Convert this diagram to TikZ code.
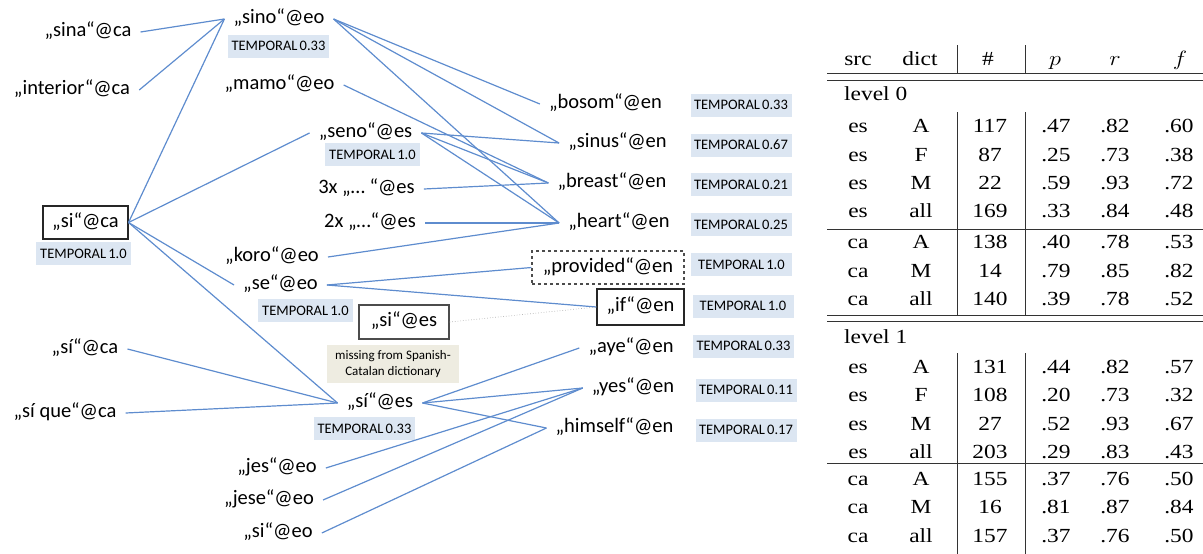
\documentclass[tikz,border=0pt]{standalone}
\usepackage{fontspec}
\usepackage{graphicx}
\setmainfont{Liberation Serif}
\newfontfamily\calib{Carlito}
\newcommand\hs[1]{\scalebox{1.17}[1]{#1}}
\newcommand\tmpl[1]{TEMPORAL\hspace{0.15em}#1}
\definecolor{edgeblue}{RGB}{94,140,206}
\definecolor{tagblue}{RGB}{220,230,242}
\definecolor{tagbeige}{RGB}{238,236,225}
\begin{document}
\begin{tikzpicture}[x=1pt,y=-1pt,
  word/.style={font=\calib\fontsize{20.5}{24}\selectfont, inner xsep=9pt, inner ysep=2pt, text height=14pt, text depth=5pt},
  boxed/.style={word, draw=black!85, line width=1.1pt, inner sep=0pt},
  tagbox/.style={fill=tagblue, font=\calib\fontsize{14.5}{16}\selectfont, minimum width=101pt, minimum height=23pt, inner sep=0pt},
  link/.style={draw=edgeblue, line width=1.2pt},
  cell/.style={font=\fontsize{20}{24}\selectfont, inner sep=0pt, text height=14pt, text depth=4pt},
  rulel/.style={line width=1pt, draw=black!80}]
\useasboundingbox (0,0) rectangle (1203,554);

% ---- left column
\node[word] (sina) at (88,32) {„sina“@ca};
\node[word] (interior) at (72,90) {„interior“@ca};
\node[boxed, minimum width=85pt, minimum height=33pt] (sica) at (85.5,222.5) {„si“@ca};
\node[tagbox, minimum width=95pt] (sicalab) at (83.5,253.5) {\tmpl{1.0}};
\node[word] (sica2) at (85,349) {„sí“@ca};
\node[word] (sique) at (65,413) {„sí que“@ca};

% ---- middle column
\node[word] (sino) at (279,19) {„sino“@eo};
\node[tagbox] (sinolab) at (278.5,46) {\tmpl{0.33}};
\node[word] (mamo) at (279.5,85) {„mamo“@eo};
\node[word] (seno) at (365.5,133) {„seno“@es};
\node[tagbox, minimum width=95pt] (senolab) at (372.5,154.5) {\tmpl{1.0}};
\node[word] (three) at (366.5,189) {3x „… “@es};
\node[word] (two) at (370,223) {2x „…“@es};
\node[word] (koro) at (272,257) {„koro“@eo};
\node[word] (se) at (280.5,285) {„se“@eo};
\node[tagbox, minimum width=95pt] (selab) at (305.5,310.5) {\tmpl{1.0}};
\node[boxed, draw=black!70, minimum width=90pt, minimum height=34pt] (sies) at (404,322) {„si“@es};
\node[fill=tagbeige, minimum width=132pt, minimum height=38pt, inner sep=0pt, align=center,
      font=\calib\fontsize{13}{16.5}\selectfont] (missing) at (393,364) {missing from Spanish-\\Catalan dictionary};
\node[word] (sies2) at (380,403) {„sí“@es};
\node[tagbox] (sies2lab) at (364.5,428.5) {\tmpl{0.33}};
\node[word] (jes) at (277,468) {„jes“@eo};
\node[word] (jese) at (269,500) {„jese“@eo};
\node[word] (sieo) at (278,533) {„si“@eo};

% ---- right column
\node[word] (bosom) at (605.5,104) {„bosom“@en};
\node[word] (sinus) at (617.5,143) {„sinus“@en};
\node[word] (breast) at (612,183) {„breast“@en};
\node[word] (heart) at (619,223) {„heart“@en};
\node[boxed, draw=black!70, dashed, minimum width=152pt, minimum height=33pt] (provided) at (608,267.5) {„provided“@en};
\node[boxed, minimum width=87pt, minimum height=36pt] (if) at (640.5,307) {„if“@en};
\node[word] (aye) at (631,348) {„aye“@en};
\node[word] (yes) at (633,388) {„yes“@en};
\node[word] (himself) at (614.5,428) {„himself“@en};

\node[tagbox] (bosomlab) at (741,105) {\tmpl{0.33}};
\node[tagbox] (sinuslab) at (741,145) {\tmpl{0.67}};
\node[tagbox] (breastlab) at (741,184.5) {\tmpl{0.21}};
\node[tagbox] (heartlab) at (741,224.5) {\tmpl{0.25}};
\node[tagbox] (providedlab) at (741.5,264.5) {\tmpl{1.0}};
\node[tagbox] (iflab) at (743,306) {\tmpl{1.0}};
\node[tagbox] (ayelab) at (743.5,346) {\tmpl{0.33}};
\node[tagbox] (yeslab) at (746,390) {\tmpl{0.11}};
\node[tagbox] (himselflab) at (746,430) {\tmpl{0.17}};

% ---- connectors
\draw[link] (sina.east) -- (sino.west);
\draw[link] (interior.east) -- (sino.west);
\draw[link] (sica.east) -- (sino.west);
\draw[link] (sica.east) -- (seno.west);
\draw[link] (sica.east) -- (se.west);
\draw[link] (sica.east) -- (sies2.west);
\draw[link] (sino.east) -- (bosom.west);
\draw[link] (sino.east) -- (sinus.west);
\draw[link] (sino.east) -- (heart.west);
\draw[link] (mamo.east) -- (breast.west);
\draw[link] (seno.east) -- (sinus.west);
\draw[link] (seno.east) -- (breast.west);
\draw[link] (seno.east) -- (heart.west);
\draw[link] (three.east) -- (breast.west);
\draw[link] (two.east) -- (heart.west);
\draw[link] (koro.east) -- (heart.west);
\draw[link] (se.east) -- (provided.west);
\draw[link] (se.east) -- (if.west);
\draw[gray!60, line width=0.7pt, dotted] (sies.east) -- (if.west);
\draw[link] (sica2.east) -- (sies2.west);
\draw[link] (sique.east) -- (sies2.west);
\draw[link] (sies2.east) -- (aye.west);
\draw[link] (sies2.east) -- (yes.west);
\draw[link] (sies2.east) -- (himself.west);
\draw[link] (jes.east) -- (yes.west);
\draw[link] (jese.east) -- (yes.west);
\draw[link] (sieo.east) -- (himself.west);

% ---- table
\node[cell] (hsrc) at (858,60) {\hs{src}};
\node[cell] (hdict) at (920,60) {\hs{dict}};
\node[cell] (hnum) at (988,60) {\hs{$\#$}};
\node[cell] (hp) at (1055,60) {\hs{$p$}};
\node[cell] (hr) at (1115,60) {\hs{$r$}};
\node[cell] (hf) at (1180,60) {\hs{$f$}};
\node[cell, anchor=west] (lev0) at (844,95) {\hs{level 0}};
\node[cell, anchor=west] (lev1) at (844,338) {\hs{level 1}};
\foreach \yy/\s/\d/\n/\p/\r/\f [count=\i] in {
  127/es/A/117/.47/.82/.60, 156/es/F/87/.25/.73/.38, 184/es/M/22/.59/.93/.72,
  212/es/all/169/.33/.84/.48, 243/ca/A/138/.40/.78/.53, 272/ca/M/14/.79/.85/.82,
  300/ca/all/140/.39/.78/.52,
  368/es/A/131/.44/.82/.57, 396/es/F/108/.20/.73/.32, 425/es/M/27/.52/.93/.67,
  453/es/all/203/.29/.83/.43, 480/ca/A/155/.37/.76/.50, 508/ca/M/16/.81/.87/.84,
  537/ca/all/157/.37/.76/.50}{
  \node[cell] (src\i) at (858,\yy) {\hs{\s}};
  \node[cell] (dict\i) at (921,\yy) {\hs{\d}};
  \node[cell] (num\i) at (990,\yy) {\hs{\n}};
  \node[cell] (p\i) at (1056,\yy) {\hs{\p}};
  \node[cell] (r\i) at (1115,\yy) {\hs{\r}};
  \node[cell] (f\i) at (1179,\yy) {\hs{\f}};
}
% rules
\draw[rulel] (827,73.5) -- (1203,73.5);
\draw[rulel] (827,80.5) -- (1203,80.5);
\draw[rulel] (827,229) -- (1203,229);
\draw[rulel] (827,315) -- (1203,315);
\draw[rulel] (827,321.5) -- (1203,321.5);
\draw[rulel] (827,463) -- (1203,463);
\foreach \xx in {957,1025}{
  \draw[rulel] (\xx,45) -- (\xx,73.5);
  \draw[rulel] (\xx,112) -- (\xx,315);
  \draw[rulel] (\xx,353) -- (\xx,554);
}
\end{tikzpicture}
\end{document}
